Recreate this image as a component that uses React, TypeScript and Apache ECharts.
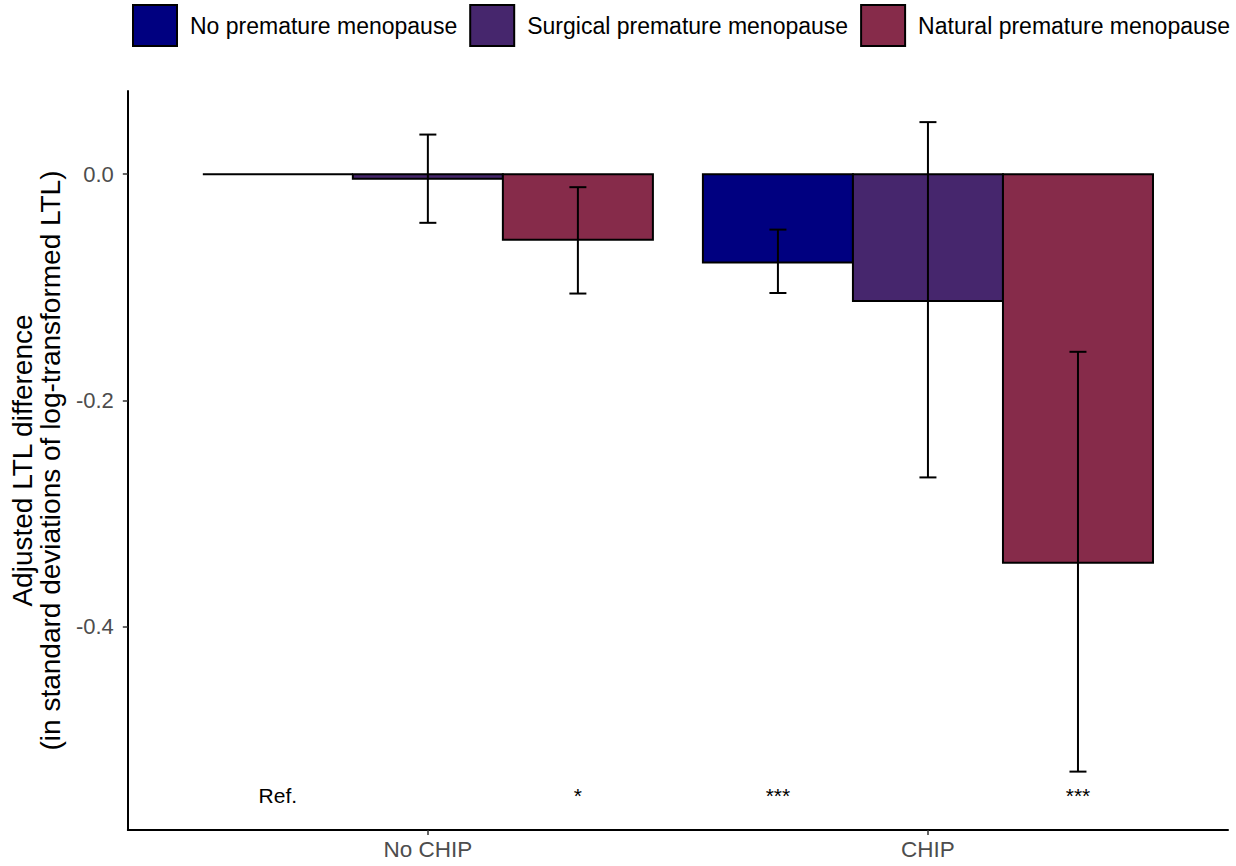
import React, { useEffect, useRef } from "react";
import * as echarts from "echarts";

const categories = ["No CHIP", "CHIP"];
const categoryPositions = [1, 2];
const groups = ["No premature menopause", "Surgical premature menopause", "Natural premature menopause"];
const groupColors = ["#000080", "#46266D", "#862B4A"];

const noPremature = [0, -0.078];
const surgical = [-0.004, -0.112];
const natural = [-0.058, -0.3435];

const noPrematureLo: (number | null)[] = [null, -0.105];
const noPrematureHi: (number | null)[] = [null, -0.049];
const surgicalLo: (number | null)[] = [-0.043, -0.268];
const surgicalHi: (number | null)[] = [0.035, 0.046];
const naturalLo: (number | null)[] = [-0.1055, -0.528];
const naturalHi: (number | null)[] = [-0.0115, -0.157];

const noPrematureSig = ["Ref.", "***"];
const surgicalSig = ["", ""];
const naturalSig = ["*", "***"];

const yTicks = [0, -0.2, -0.4];
const yMin = -0.5796;
const yMax = 0.0735;
const xMin = 0.4;
const xMax = 2.6;
const sigY = -0.549;

const FONT = "Liberation Sans, Arial, sans-serif";
const DODGE = 0.9;

export default function App() {
  const ref = useRef<HTMLDivElement>(null);
  useEffect(() => {
    if (!ref.current) return;
    document.body.style.margin = "0";
    const chart = echarts.init(ref.current, null, { renderer: "svg" });
    const values = [noPremature, surgical, natural];
    const los = [noPrematureLo, surgicalLo, naturalLo];
    const his = [noPrematureHi, surgicalHi, naturalHi];
    const sigs = [noPrematureSig, surgicalSig, naturalSig];
    const barW = DODGE / groups.length;

    const barSeries = groups.map((g, gi) => ({
      type: "custom",
      name: g,
      itemStyle: { color: groupColors[gi], borderColor: "#000", borderWidth: 2 },
      data: categoryPositions.map((x, ci) => [x, values[gi][ci]]),
      renderItem: (params: any, api: any) => {
        const cx = api.value(0) - DODGE / 2 + barW * (gi + 0.5);
        const v = api.value(1);
        const p0 = api.coord([cx - barW / 2, 0]);
        const p1 = api.coord([cx + barW / 2, v]);
        return {
          type: "rect",
          shape: { x: p0[0], y: Math.min(p0[1], p1[1]), width: p1[0] - p0[0], height: Math.abs(p1[1] - p0[1]) },
          style: { fill: groupColors[gi], stroke: "#000", lineWidth: 2 },
        };
      },
      z: 2,
    }));

    const errData: any[] = [];
    groups.forEach((g, gi) => {
      categoryPositions.forEach((x, ci) => {
        const lo = los[gi][ci];
        const hi = his[gi][ci];
        if (lo === null || hi === null) return;
        errData.push([x - DODGE / 2 + barW * (gi + 0.5), lo, hi]);
      });
    });

    const errSeries = {
      type: "custom",
      name: "errors",
      data: errData,
      renderItem: (params: any, api: any) => {
        const x = api.value(0);
        const a = api.coord([x, api.value(1)]);
        const b = api.coord([x, api.value(2)]);
        const cap = 8.5;
        const st = { stroke: "#000", lineWidth: 2 };
        return {
          type: "group",
          children: [
            { type: "line", shape: { x1: a[0], y1: a[1], x2: b[0], y2: b[1] }, style: st },
            { type: "line", shape: { x1: a[0] - cap, y1: a[1], x2: a[0] + cap, y2: a[1] }, style: st },
            { type: "line", shape: { x1: b[0] - cap, y1: b[1], x2: b[0] + cap, y2: b[1] }, style: st },
          ],
        };
      },
      z: 3,
    };

    const sigData: any[] = [];
    groups.forEach((g, gi) => {
      categoryPositions.forEach((x, ci) => {
        const s = sigs[gi][ci];
        if (!s) return;
        sigData.push([x - DODGE / 2 + barW * (gi + 0.5), sigY, s]);
      });
    });

    const sigSeries = {
      type: "custom",
      name: "sig",
      data: sigData,
      renderItem: (params: any, api: any) => {
        const p = api.coord([api.value(0), api.value(1)]);
        return {
          type: "text",
          x: p[0],
          y: p[1],
          style: {
            text: sigData[params.dataIndex][2],
            fill: "#000",
            font: `21px ${FONT}`,
            align: "center",
            verticalAlign: "middle",
          },
        };
      },
      z: 4,
    };

    chart.setOption({
      animation: false,
      textStyle: { fontFamily: FONT },
      legend: {
        data: groups,
        top: 4,
        left: 132,
        padding: 0,
        itemWidth: 44,
        itemHeight: 41,
        itemGap: 12,
        icon: "rect",
        itemStyle: { borderColor: "#000", borderWidth: 2 },
        textStyle: { fontSize: 23, color: "#000", fontFamily: FONT, padding: [0, 0, 0, 8] },
      },
      grid: { left: 122, right: 8, top: 91, bottom: 36, containLabel: false },
      xAxis: {
        type: "value",
        min: xMin,
        max: xMax,
        splitLine: { show: false },
        axisLine: { show: true, onZero: false, lineStyle: { color: "#000", width: 2 } },
        axisTick: { show: true, customValues: categoryPositions, length: 5, lineStyle: { color: "#333", width: 1.5 } },
        axisLabel: {
          customValues: categoryPositions,
          formatter: (v: number) => categories[categoryPositions.indexOf(Math.round(v))] ?? "",
          color: "#4D4D4D",
          fontSize: 22.5,
          margin: 8,
          fontFamily: FONT,
        },
      },
      yAxis: {
        type: "value",
        min: yMin,
        max: yMax,
        splitLine: { show: false },
        axisLine: { show: true, lineStyle: { color: "#000", width: 2 } },
        axisTick: { show: true, customValues: yTicks, length: 5, lineStyle: { color: "#333", width: 1.5 } },
        axisLabel: {
          customValues: yTicks,
          formatter: (v: number) => v.toFixed(1),
          color: "#4D4D4D",
          fontSize: 22,
          margin: 14,
          fontFamily: FONT,
        },
        name: "Adjusted LTL difference\n(in standard deviations of log-transformed LTL)",
        nameLocation: "middle",
        nameGap: 56,
        nameTextStyle: { fontSize: 28, color: "#000", lineHeight: 28.5, fontFamily: FONT },
      },
      series: [...barSeries, errSeries, sigSeries],
    });
    return () => chart.dispose();
  }, []);
  return <div ref={ref} style={{ width: 1236, height: 866 }} />;
}
